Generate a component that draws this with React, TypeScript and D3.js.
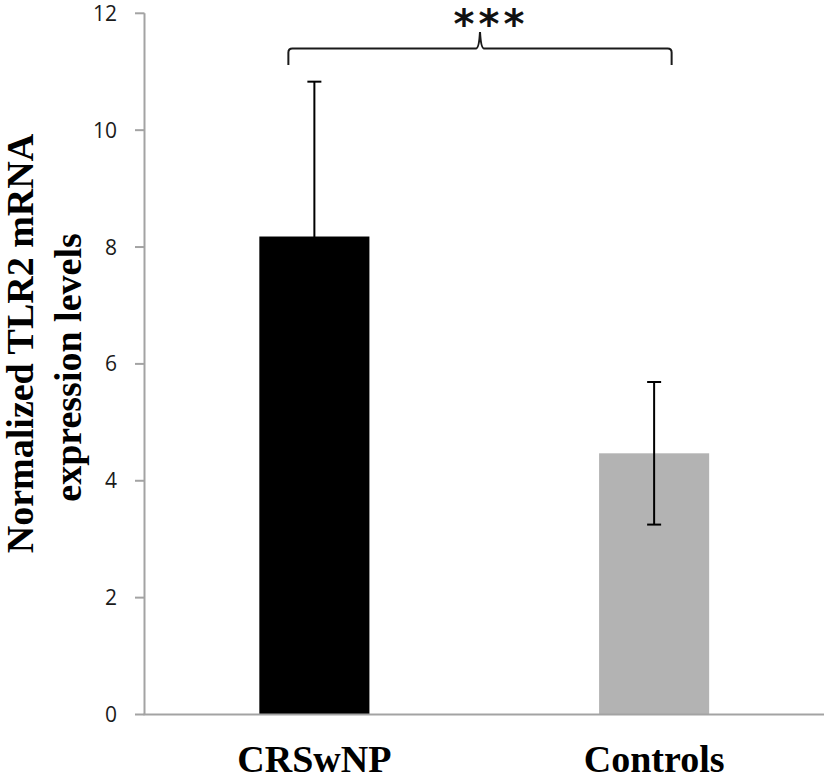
import React from "react";
import * as d3 from "d3";

const categories = ["CRSwNP", "Controls"];
const means = [8.18, 4.47];
const errors = [2.65, 1.22];
const barColors = ["#000000", "#b3b3b3"];
const yTicks = [0, 2, 4, 6, 8, 10, 12];
const yLabelLines = ["Normalized TLR2 mRNA", "expression levels"];
const significance = "***";

const W = 826;
const H = 780;

export default function App() {
  const y = d3.scaleLinear().domain([0, 12]).range([714.5, 13.3]);
  const x = d3
    .scaleBand<string>()
    .domain(categories)
    .range([144.5, 824])
    .paddingInner(0.676)
    .paddingOuter(0.338);
  const axisX = 144.5;
  const axisColor = "#a3a3a3";
  const capHalf = 7;

  const c0 = (x(categories[0]) ?? 0) + x.bandwidth() / 2;
  const c1 = (x(categories[1]) ?? 0) + x.bandwidth() / 2;
  const bl = c0 - 26;
  const br = c1 + 17.5;
  const by = 48.5;
  const mid = 480;
  const bracket = d3.path();
  bracket.moveTo(bl, 65);
  bracket.lineTo(bl, by + 4);
  bracket.quadraticCurveTo(bl, by, bl + 4, by);
  bracket.lineTo(mid - 4, by);
  bracket.quadraticCurveTo(mid - 1, by, mid, by - 16.5);
  bracket.quadraticCurveTo(mid + 1, by, mid + 4, by);
  bracket.lineTo(br - 4, by);
  bracket.quadraticCurveTo(br, by, br, by + 4);
  bracket.lineTo(br, 65);

  return (
    <svg
      width={W}
      height={H}
      style={{ position: "absolute", left: 0, top: 0, background: "#fff" }}
    >
      {/* bars */}
      {categories.map((c, i) => (
        <rect
          key={c}
          x={x(c)}
          y={y(means[i])}
          width={x.bandwidth()}
          height={y(0) - y(means[i])}
          fill={barColors[i]}
        />
      ))}
      {/* error bars */}
      {categories.map((c, i) => {
        const cx = (x(c) ?? 0) + x.bandwidth() / 2;
        const top = y(means[i] + errors[i]);
        const bot = y(means[i] - errors[i]);
        return (
          <g key={c} stroke="#000" strokeWidth={2}>
            <line x1={cx} x2={cx} y1={top} y2={bot} />
            <line x1={cx - capHalf} x2={cx + capHalf} y1={top} y2={top} />
            <line x1={cx - capHalf} x2={cx + capHalf} y1={bot} y2={bot} />
          </g>
        );
      })}
      {/* y axis */}
      <line x1={axisX} x2={axisX} y1={y(12)} y2={y(0)} stroke={axisColor} strokeWidth={2} />
      {yTicks.map((t) => (
        <g key={t}>
          <line x1={135} x2={axisX} y1={y(t)} y2={y(t)} stroke={axisColor} strokeWidth={2} />
          <text
            x={117}
            y={y(t)}
            dy="0.36em"
            textAnchor="end"
            fontFamily="'Open Sans', sans-serif"
            fontSize={21}
            fill="#1a1a1a"
          >
            {t}
          </text>
        </g>
      ))}
      {/* x axis */}
      <line x1={axisX - 1} x2={824} y1={y(0)} y2={y(0)} stroke={axisColor} strokeWidth={2} />
      {categories.map((c) => (
        <text
          key={c}
          x={(x(c) ?? 0) + x.bandwidth() / 2}
          y={772}
          textAnchor="middle"
          fontFamily="'Liberation Serif', 'Times New Roman', serif"
          fontWeight="bold"
          fontSize={38}
          fill="#000"
        >
          {c}
        </text>
      ))}
      {/* y label */}
      <text
        transform={`translate(33,343.5) rotate(-90)`}
        textAnchor="middle"
        fontFamily="'Liberation Serif', 'Times New Roman', serif"
        fontWeight="bold"
        fontSize={38}
        fill="#000"
      >
        {yLabelLines[0]}
      </text>
      <text
        transform={`translate(80.5,367.5) rotate(-90)`}
        textAnchor="middle"
        fontFamily="'Liberation Serif', 'Times New Roman', serif"
        fontWeight="bold"
        fontSize={38}
        fill="#000"
      >
        {yLabelLines[1]}
      </text>
      {/* significance bracket */}
      <path d={bracket.toString()} fill="none" stroke="#1a1a1a" strokeWidth={2} />
      <text
        x={491}
        y={38}
        textAnchor="middle"
        fontFamily="'DejaVu Sans', sans-serif"
        fontWeight="bold"
        fontSize={40}
        letterSpacing={4}
        fill="#111"
      >
        {significance}
      </text>
    </svg>
  );
}
